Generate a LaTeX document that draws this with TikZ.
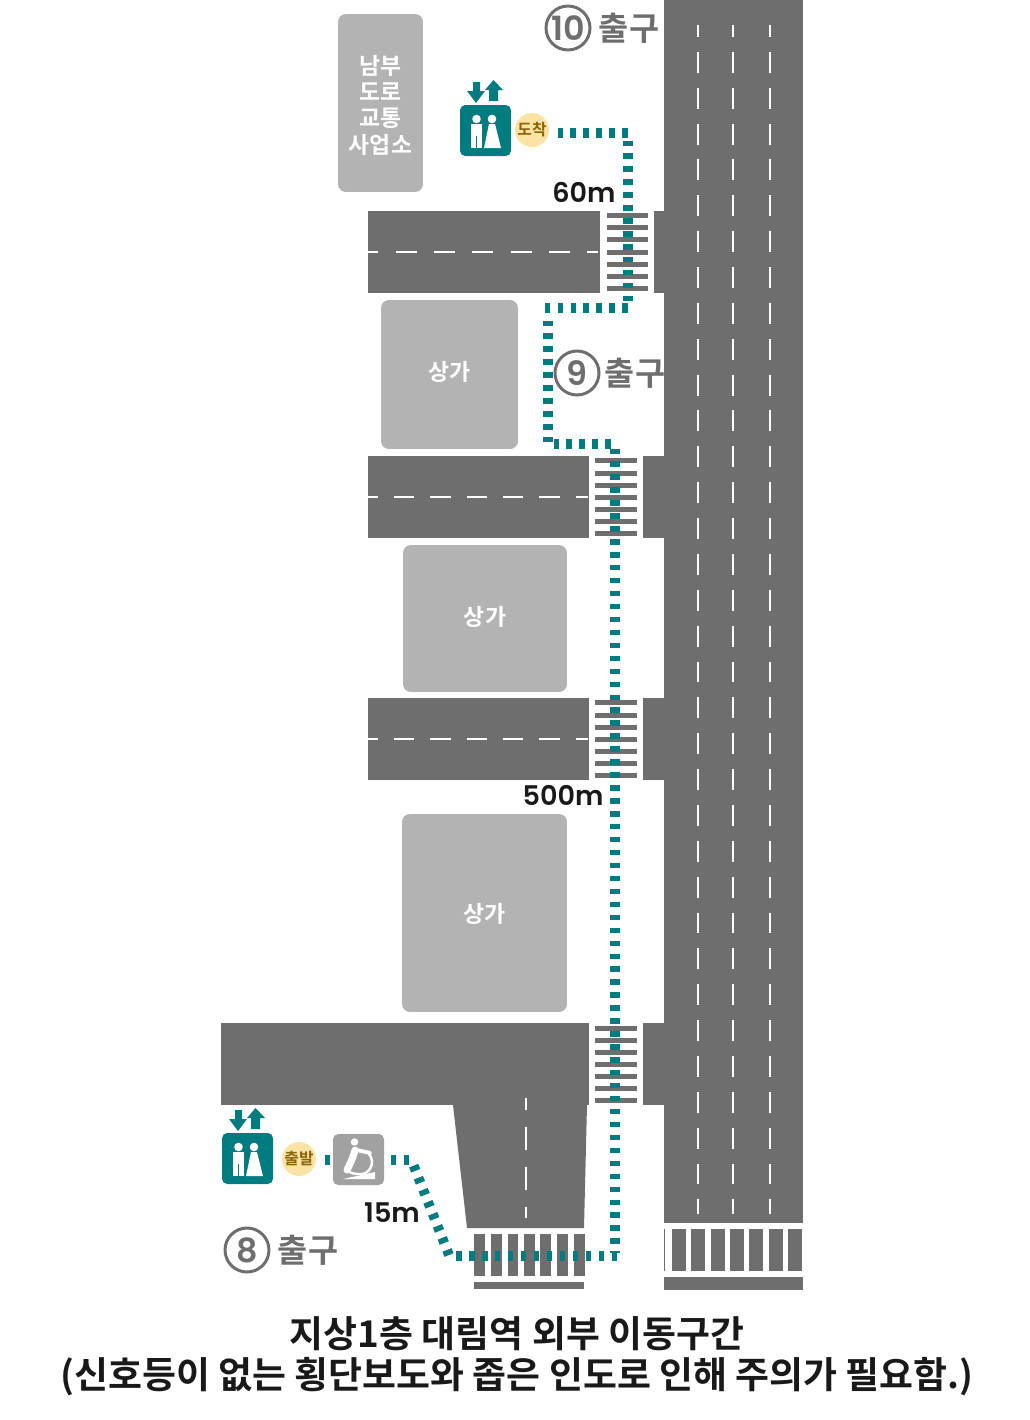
\documentclass[tikz,border=0pt]{standalone}
\usepackage{fontspec}
\setmainfont{Noto Sans CJK KR}[BoldFont={Noto Sans CJK KR Bold}]
\newfontfamily\gatefont{Poppins SemiBold}
\usepackage{xcolor}
\definecolor{RoadGray}{HTML}{6E6E6E}
\definecolor{ShopGray}{HTML}{B3B3B3}
\definecolor{RouteTeal}{HTML}{007B80}
\definecolor{BadgeFill}{HTML}{FBE3A5}
\definecolor{BadgeText}{HTML}{8A6508}
\tikzset{
	road/.style = {fill=RoadGray},
	bar/.style = {fill=RoadGray},
	lane/.style = {white, line width=1.1pt},
	mainlane/.style = {white, line width=1pt, dash pattern=on 11.9pt off 8.51pt, dash phase=5.1pt},
	shop/.style = {fill=ShopGray, rounded corners=4.5pt, inner sep=0pt},
	shoptext/.style = {text=white, font=\bfseries\fontsize{13}{15}\selectfont, align=center, inner sep=0pt},
	route/.style = {RouteTeal, line width=5.6pt, dash pattern=on 3.1pt off 4.27pt},
	badge/.style = {circle, fill=BadgeFill, text=BadgeText, minimum size=0.68cm, inner sep=0pt, font=\bfseries\fontsize{9}{10}\selectfont},
	gate/.style = {circle, draw=RoadGray, line width=1.7pt, text=RoadGray, minimum size=0.88cm, inner sep=0pt, font=\gatefont\fontsize{19}{20}\selectfont},
	gatetext/.style = {text=RoadGray, font=\bfseries\fontsize{18.6}{20}\selectfont, inner sep=0pt},
	dist/.style = {text=black!90, font=\gatefont\fontsize{15.4}{18}\selectfont, inner sep=0pt},
	title/.style = {text=black!90, font=\bfseries\fontsize{21}{24}\selectfont, inner sep=0pt}
}
% lift icon, #1 #2 = top left corner of the box
\newcommand{\LiftIcon}[2]{
	\begin{scope}[shift={(#1,#2)}]
		\fill[RouteTeal, rounded corners=3pt] (0,0) rectangle (51,51);
		\fill[RouteTeal] (13,-23) -- (20,-23) -- (20,-14) -- (25,-14) -- (16,-2) -- (7,-14) -- (13,-14) -- cycle;
		\fill[RouteTeal] (29,-4) -- (38,-4) -- (38,-15) -- (43,-15) -- (33.5,-25) -- (25,-15) -- (29,-15) -- cycle;
		\fill[white] (16.5,14) circle (4.3);
		\fill[white] (32,14) circle (4.3);
		\fill[white] (11,19) rectangle (22,43);
		\fill[RouteTeal] (16,31) rectangle (17,43);
		\fill[white] (29,19) -- (35,19) -- (41,43) -- (24,43) -- cycle;
	\end{scope}
}
\begin{document}
\begin{tikzpicture}[x=0.02cm, y=-0.02cm]
	\useasboundingbox (0,0) rectangle (1030,1420);

	% main road
	\fill[road] (664,0) rectangle (803,1223);
	\draw[mainlane] (698,25) -- (698,1214);
	\draw[mainlane] (733,25) -- (733,1214);
	\draw[mainlane, line width=1.5pt] (770,25) -- (770,1214);

	% side roads
	\fill[road] (368,211) rectangle (600,293);
	\fill[road] (654,211) rectangle (664,293);
	\fill[road] (368,456) rectangle (589,538);
	\fill[road] (643,456) rectangle (664,538);
	\fill[road] (368,698) rectangle (589,780);
	\fill[road] (643,698) rectangle (664,780);
	\fill[road] (221,1023) rectangle (589,1105);
	\fill[road] (643,1023) rectangle (664,1105);
	\fill[road] (453,1105) -- (587,1105) -- (584,1228) -- (467,1228) -- cycle;

	\draw[lane, dash pattern=on 11.9pt off 9.9pt, dash phase=6pt] (368,252) -- (598,252);
	\draw[lane, dash pattern=on 11.6pt off 9.1pt, dash phase=6pt] (368,497) -- (588,497);
	\draw[lane, dash pattern=on 11.6pt off 9.1pt, dash phase=6pt] (368,739) -- (588,739);
	\draw[lane, dash pattern=on 13pt off 9.68pt, dash phase=6.2pt] (526,1098) -- (526,1218);

	% crosswalks
	\foreach \y in {215,227,239,252,264,276,288}
		\fill[bar] (607,\y-2.5) rectangle (648,\y+2.5);
	\foreach \y in {460,473,485,497,509,521,533}
		\fill[bar] (595,\y-2.5) rectangle (637,\y+2.5);
	\foreach \y in {702,715,727,739,751,763,775}
		\fill[bar] (595,\y-2.5) rectangle (637,\y+2.5);
	\foreach \y in {1028,1040,1052,1064,1076,1088,1100}
		\fill[bar] (595,\y-2.5) rectangle (637,\y+2.5);
	\foreach \x in {474,491,507.5,524,540,557,574}
		\fill[bar] (\x,1234) rectangle (\x+10.5,1276);
	\fill[bar] (474,1282) rectangle (584,1289);
	\foreach \x in {672,691,711,730,749,769,788}
		\fill[bar] (\x,1229) rectangle (\x+13.5,1271);
	\fill[bar] (664,1229) rectangle (665,1271);
	\fill[bar] (664,1277) rectangle (803,1290);

	% shops
	\node[shop, minimum width=1.7cm, minimum height=3.56cm] (office) at (380.5,103) {};
	\node[shop, minimum width=2.74cm, minimum height=2.98cm] (shopA) at (449.5,374.5) {};
	\node[shop, minimum width=3.28cm, minimum height=2.94cm] (shopB) at (485,618.5) {};
	\node[shop, minimum width=3.3cm, minimum height=3.96cm] (shopC) at (484.5,913) {};
	\node[shoptext] (officeText) at (380.5,105) {남부\\도로\\교통\\사업소};
	\node[shoptext] (shopAText) at (449.5,372) {상가};
	\node[shoptext] (shopBText) at (485,617) {상가};
	\node[shoptext] (shopCText) at (484.5,914) {상가};

	% route
	\coordinate (r1a) at (557.5,133);
	\coordinate (r1b) at (628,133);
	\coordinate (r2a) at (628,140.5);
	\coordinate (r2b) at (628,302);
	\coordinate (r3a) at (627.75,308);
	\coordinate (r3b) at (544,308);
	\coordinate (r4a) at (548,320.5);
	\coordinate (r4b) at (548,443);
	\coordinate (r5a) at (553.5,444);
	\coordinate (r5b) at (611,444);
	\coordinate (r6a) at (615,448.5);
	\coordinate (r6b) at (615,1253);
	\coordinate (r7a) at (617,1256);
	\coordinate (r7b) at (455,1256);
	\coordinate (r8a) at (449,1255);
	\coordinate (r8b) at (413,1164);
	\coordinate (r9a) at (409,1160);
	\coordinate (r9b) at (389,1160);
	\coordinate (r10a) at (324.5,1160);
	\coordinate (r10b) at (330.5,1160);
	\draw[route] (r1a) -- (r1b);
	\draw[route] (r2a) -- (r2b);
	\draw[route] (r3a) -- (r3b);
	\draw[route] (r4a) -- (r4b);
	\draw[route] (r5a) -- (r5b);
	\draw[route] (r6a) -- (r6b);
	\draw[route] (r7a) -- (r7b);
	\draw[route] (r8a) -- (r8b);
	\draw[route] (r9a) -- (r9b);
	\draw[route] (r10a) -- (r10b);

	% lifts
	\LiftIcon{460}{105}
	\LiftIcon{222}{1133}
	\node[badge] (arrive) at (532,130) {도착};
	\node[badge] (depart) at (299,1159) {출발};

	% wheelchair lift
	\fill[ShopGray!90!black, rounded corners=3pt] (333,1134) rectangle (384,1185);
	\fill[white] (354.5,1142) circle (3.7);
	\draw[white, line width=4pt, line cap=round] (355,1150) .. controls (353,1158) and (350,1164) .. (347,1170);
	\draw[white, line width=2.2pt, line cap=round] (357,1150) -- (370,1153);
	\draw[white, line width=1.4pt] (369,1154) .. controls (376,1162) and (370,1176) .. (358,1174) .. controls (353,1174) and (349,1172) .. (346,1170);
	\fill[white] (343,1179) -- (375,1172) -- (375,1179) -- cycle;

	% gates
	\node[gate] (gateTen) at (568,28) {10};
	\node[gatetext] (gateTenText) at (629,28) {출구};
	\node[gate] (gateNine) at (577,373) {9};
	\node[gatetext] (gateNineText) at (635,373) {출구};
	\node[gate] (gateEight) at (247,1250) {8};
	\node[gatetext] (gateEightText) at (308,1250) {출구};

	% distances
	\node[dist] (distA) at (584,192) {60m};
	\node[dist] (distB) at (563,795) {500m};
	\node[dist] (distC) at (392,1213) {15m};

	% title
	\node[title] (titleA) at (517,1334) {지상1층 대림역 외부 이동구간};
	\node[title] (titleB) at (517,1377) {(신호등이 없는 횡단보도와 좁은 인도로 인해 주의가 필요함.)};
\end{tikzpicture}
\end{document}
